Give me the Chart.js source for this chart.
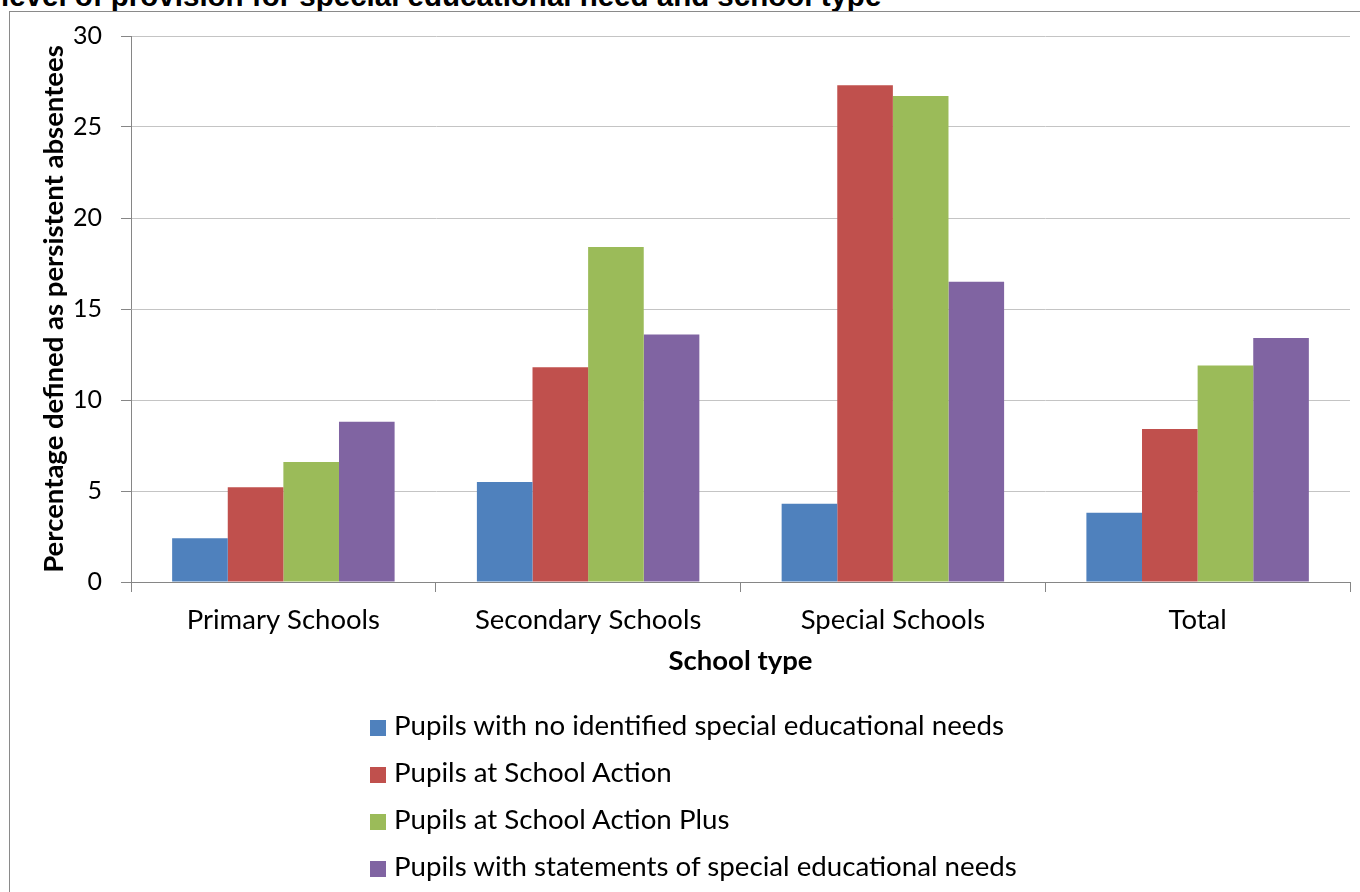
<!DOCTYPE html>
<html lang="en">
<head>
    <meta charset="UTF-8">
    <title>Persistent absentees by SEN provision and school type</title>
    <style>
        html, body {
            margin: 0;
            padding: 0;
            width: 1360px;
            height: 892px;
            overflow: hidden;
            background: #ffffff;
        }
        .heading {
            position: absolute;
            left: 1px;
            top: -19px;
            font-family: "Liberation Sans", Arial, sans-serif;
            font-weight: bold;
            font-size: 29.5px;
            line-height: 29.5px;
            color: #000;
            white-space: nowrap;
        }
        .frame {
            position: absolute;
            left: 9px;
            top: 11px;
            width: 1400px;
            height: 1000px;
            border: 1px solid #8a8a8a;
        }
        .chart-box {
            position: absolute;
            left: 0;
            top: 0;
            width: 1360px;
            height: 892px;
        }
        #legend {
            position: absolute;
            left: 370px;
            top: 701px;
            margin: 0;
            padding: 0;
            list-style: none;
            font-family: Lato, sans-serif;
            font-size: 27.7px;
            color: #000;
        }
        #legend li {
            height: 47px;
            line-height: 47px;
            white-space: nowrap;
        }
        #legend .swatch {
            display: inline-block;
            width: 16px;
            height: 16px;
            margin-right: 8px;
            vertical-align: -1px;
        }
    </style>
</head>
<body>
    <div class="heading">level of provision for special educational need and school type</div>
    <div class="frame"></div>
    <div class="chart-box">
        <canvas id="absenceChart" width="1360" height="892"></canvas>
    </div>
    <ul id="legend"></ul>

    <script src="https://cdn.jsdelivr.net/npm/chart.js"></script>
    <script>
        const schoolTypes = ['Primary Schools', 'Secondary Schools', 'Special Schools', 'Total'];
        const seriesNames = [
            'Pupils with no identified special educational needs',
            'Pupils at School Action',
            'Pupils at School Action Plus',
            'Pupils with statements of special educational needs'
        ];
        const noSen = [2.4, 5.5, 4.3, 3.8];
        const schoolAction = [5.2, 11.8, 27.3, 8.4];
        const schoolActionPlus = [6.6, 18.4, 26.7, 11.9];
        const statements = [8.8, 13.6, 16.5, 13.4];
        const seriesColors = ['#4f81bd', '#c0504d', '#9bbb59', '#8064a2'];

        const xTickFont = { family: 'Lato', size: 27.5 };
        const yTickFont = { family: 'Lato', size: 25 };
        const titleFont = { family: 'Lato', size: 27.5, weight: 'bold' };

        const ctx = document.getElementById('absenceChart').getContext('2d');
        const chart = new Chart(ctx, {
            type: 'bar',
            data: {
                labels: schoolTypes,
                datasets: [noSen, schoolAction, schoolActionPlus, statements].map((values, i) => ({
                    label: seriesNames[i],
                    data: values,
                    backgroundColor: seriesColors[i],
                    borderWidth: 0,
                    barPercentage: 1,
                    categoryPercentage: 0.73
                }))
            },
            options: {
                responsive: false,
                animation: false,
                layout: {
                    padding: { left: 0, top: 36, right: 10, bottom: 210 }
                },
                plugins: {
                    legend: { display: false },
                    tooltip: { enabled: false }
                },
                scales: {
                    x: {
                        grid: {
                            offset: true,
                            drawOnChartArea: false,
                            drawTicks: true,
                            tickLength: 10,
                            tickColor: '#868686'
                        },
                        border: { color: '#868686', width: 1 },
                        ticks: {
                            color: '#000',
                            font: xTickFont,
                            padding: 12
                        },
                        title: {
                            display: true,
                            text: 'School type',
                            color: '#000',
                            font: titleFont,
                            padding: { top: 0, bottom: 4 }
                        },
                        afterFit(scale) {
                            scale.height = 100;
                        }
                    },
                    y: {
                        min: 0,
                        max: 30,
                        ticks: {
                            stepSize: 5,
                            color: '#000',
                            font: yTickFont,
                            padding: 19
                        },
                        grid: {
                            color: '#c4c4c4',
                            tickColor: '#868686',
                            tickLength: 10
                        },
                        border: { color: '#868686', width: 1 },
                        title: {
                            display: true,
                            text: 'Percentage defined as persistent absentees',
                            color: '#000',
                            font: titleFont,
                            padding: { top: 38, bottom: 0 }
                        },
                        afterFit(scale) {
                            scale.width = 131;
                        }
                    }
                }
            }
        });

        // html legend, one entry per line like the original
        const legendList = document.getElementById('legend');
        chart.options.plugins.legend.labels.generateLabels(chart).forEach(item => {
            const li = document.createElement('li');
            const swatch = document.createElement('span');
            swatch.className = 'swatch';
            swatch.style.background = item.fillStyle;
            li.appendChild(swatch);
            li.appendChild(document.createTextNode(item.text));
            legendList.appendChild(li);
        });
    </script>
</body>
</html>
